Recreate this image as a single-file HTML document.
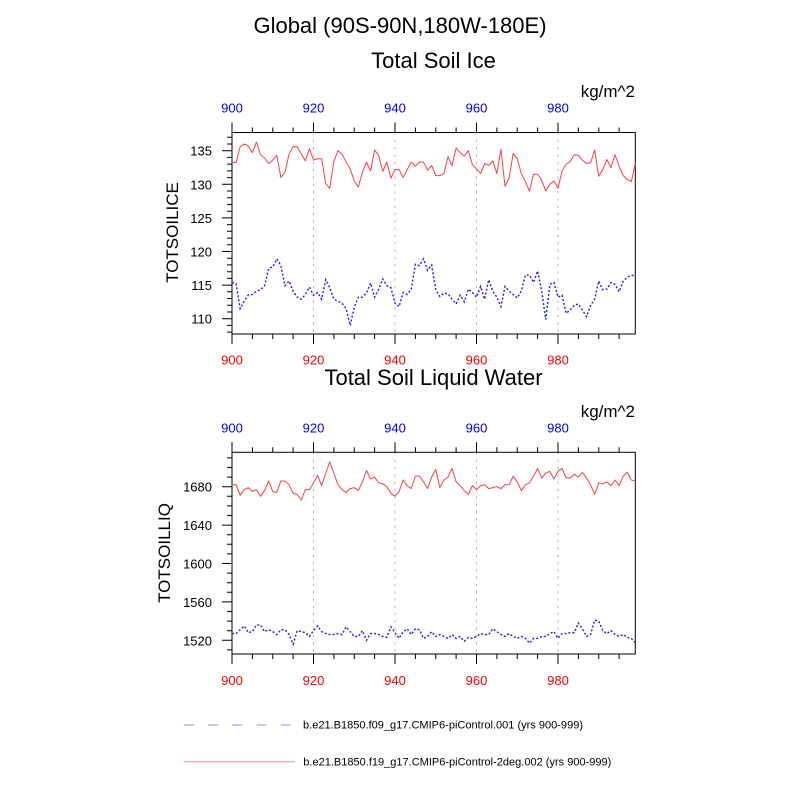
<!DOCTYPE html>
<html><head><meta charset="utf-8"><style>
html,body{margin:0;padding:0;background:#fff;}
svg{display:block;}
text{font-family:"Liberation Sans",Arial,sans-serif;}
</style></head><body>
<svg width="800" height="800" viewBox="0 0 800 800" xmlns="http://www.w3.org/2000/svg">
<rect width="800" height="800" fill="#fff"/>
<!-- Titles -->
<text x="400" y="33" font-size="22" text-anchor="middle">Global (90S-90N,180W-180E)</text>
<text x="433.5" y="68" font-size="22" text-anchor="middle">Total Soil Ice</text>
<text x="635" y="97" font-size="17" text-anchor="end">kg/m^2</text>

<!-- TOP PANEL -->
<g stroke="#b0b0b0" stroke-width="0.9" stroke-dasharray="2.5,4.8" fill="none">
<path d="M313.5 132.5V334M395 132.5V334M476.5 132.5V334M558 132.5V334"/>
</g>
<g fill="#0000ff" font-size="13" text-anchor="middle">
<text x="232" y="112.5">900</text><text x="313.5" y="112.5">920</text><text x="395" y="112.5">940</text><text x="476.5" y="112.5">960</text><text x="558" y="112.5">980</text>
</g>
<g fill="#ff0000" font-size="13" text-anchor="middle">
<text x="232" y="364.5">900</text><text x="313.5" y="364.5">920</text><text x="395" y="364.5">940</text><text x="476.5" y="364.5">960</text><text x="558" y="364.5">980</text>
</g>
<g font-size="13" text-anchor="end">
<text x="212" y="155.7">135</text><text x="212" y="189.3">130</text><text x="212" y="222.9">125</text><text x="212" y="256.5">120</text><text x="212" y="290.1">115</text><text x="212" y="323.7">110</text>
</g>
<text transform="translate(178,232.5) rotate(-90)" font-size="17" text-anchor="middle">TOTSOILICE</text>
<g stroke="#000" stroke-width="1" fill="none">
<path d="M232 122.5V132.5M313.5 122.5V132.5M395 122.5V132.5M476.5 122.5V132.5M558 122.5V132.5
M252.4 127.5V132.5M272.75 127.5V132.5M293.1 127.5V132.5M333.9 127.5V132.5M354.25 127.5V132.5M374.6 127.5V132.5M415.4 127.5V132.5M435.75 127.5V132.5M456.1 127.5V132.5M496.9 127.5V132.5M517.25 127.5V132.5M537.6 127.5V132.5M578.4 127.5V132.5M598.75 127.5V132.5M619.1 127.5V132.5"/>
<path d="M232 334V344M313.5 334V344M395 334V344M476.5 334V344M558 334V344
M252.4 334V339M272.75 334V339M293.1 334V339M333.9 334V339M354.25 334V339M374.6 334V339M415.4 334V339M435.75 334V339M456.1 334V339M496.9 334V339M517.25 334V339M537.6 334V339M578.4 334V339M598.75 334V339M619.1 334V339"/>
<path d="M222 150.7H232M222 184.3H232M222 217.9H232M222 251.5H232M222 285.1H232M222 318.7H232
M227 332.1H232M227 325.4H232M227 312H232M227 305.3H232M227 298.5H232M227 291.8H232M227 278.4H232M227 271.7H232M227 264.9H232M227 258.2H232M227 244.8H232M227 238.1H232M227 231.3H232M227 224.6H232M227 211.2H232M227 204.5H232M227 197.7H232M227 191H232M227 177.6H232M227 170.9H232M227 164.1H232M227 157.4H232M227 144H232M227 137.3H232"/>
<rect x="232" y="132.5" width="403.3" height="201.5"/>
</g>
<polyline transform="matrix(4.075 0 0 -6.72 232 1057.9)" vector-effect="non-scaling-stroke" fill="none" stroke="#ff4040" stroke-width="1" stroke-linejoin="round"
points="0,133.3 1,133.2 2,135.6 3,136.0 4,135.7 5,134.7 6,136.3 7,134.4 8,133.9 9,133.1 10,133.6 11,134.3 12,131.0 13,131.8 14,134.5 15,135.6 16,135.6 17,134.5 18,133.5 19,135.3 20,133.6 21,133.8 22,133.8 23,130.1 24,129.4 25,133.4 26,135.0 27,134.5 28,133.3 29,132.3 30,130.5 31,129.6 32,131.8 33,133.3 34,132.0 35,135.1 36,134.3 37,131.9 38,133.3 39,130.9 40,132.2 41,132.2 42,131.0 43,132.2 44,133.3 45,132.7 46,133.3 47,133.3 48,132.1 49,132.8 50,131.3 51,131.3 52,131.6 53,134.1 54,132.8 55,135.4 56,134.7 57,134.2 58,135.0 59,132.9 60,132.3 61,131.6 62,133.1 63,132.8 64,133.5 65,131.6 66,135.2 67,129.7 68,130.9 69,134.6 70,133.8 71,131.6 72,130.4 73,129.0 74,131.5 75,131.5 76,130.6 77,129.0 78,130.0 79,130.5 80,129.4 81,132.0 82,133.0 83,133.4 84,134.4 85,134.3 86,133.6 87,133.1 88,133.2 89,135.1 90,131.2 91,132.2 92,133.7 93,132.5 94,134.4 95,132.7 96,131.3 97,130.7 98,130.4 99,133.2"/>
<polyline transform="matrix(4.075 0 0 -6.72 232 1057.9)" vector-effect="non-scaling-stroke" fill="none" stroke="#1a1aff" stroke-width="1.4" stroke-dasharray="2,2"
points="0,115.4 1,115.2 2,111.5 3,112.6 4,113.5 5,113.6 6,114.1 7,114.3 8,114.9 9,117.5 10,117.7 11,118.9 12,117.9 13,114.9 14,115.6 15,114.1 16,113.2 17,112.9 18,113.6 19,114.7 20,113.5 21,113.9 22,112.9 23,115.8 24,114.6 25,112.9 26,112.6 27,112.3 28,111.5 29,109.0 30,111.7 31,113.2 32,113.2 33,113.8 34,115.3 35,113.2 36,114.4 37,115.9 38,114.9 39,114.6 40,112.3 41,111.8 42,113.9 43,113.6 44,114.4 45,118.1 46,117.9 47,118.9 48,117.2 49,118.0 50,114.3 51,113.3 52,113.8 53,113.7 54,112.9 55,112.2 56,113.5 57,112.5 58,114.4 59,113.9 60,113.2 61,114.8 62,112.9 63,115.8 64,114.1 65,113.2 66,111.8 67,114.8 68,114.1 69,113.6 70,113.1 71,114.1 72,116.5 73,116.5 74,115.4 75,117.1 76,114.1 77,109.9 78,115.1 79,115.4 80,113.2 81,113.5 82,110.8 83,111.3 84,112.0 85,112.2 86,111.3 87,110.3 88,112.0 89,112.9 90,115.6 91,114.3 92,114.4 93,115.4 94,115.1 95,114.0 96,115.6 97,116.2 98,116.4 99,116.5"/>

<!-- BOTTOM PANEL -->
<text x="433.5" y="385" font-size="22" text-anchor="middle">Total Soil Liquid Water</text>
<text x="635" y="417" font-size="17" text-anchor="end">kg/m^2</text>
<g stroke="#b0b0b0" stroke-width="0.9" stroke-dasharray="2.5,4.8" fill="none">
<path d="M313.5 452.3V654M395 452.3V654M476.5 452.3V654M558 452.3V654"/>
</g>
<g fill="#0000ff" font-size="13" text-anchor="middle">
<text x="232" y="432.3">900</text><text x="313.5" y="432.3">920</text><text x="395" y="432.3">940</text><text x="476.5" y="432.3">960</text><text x="558" y="432.3">980</text>
</g>
<g fill="#ff0000" font-size="13" text-anchor="middle">
<text x="232" y="685">900</text><text x="313.5" y="685">920</text><text x="395" y="685">940</text><text x="476.5" y="685">960</text><text x="558" y="685">980</text>
</g>
<g font-size="13" text-anchor="end">
<text x="212" y="491.7">1680</text><text x="212" y="530.1">1640</text><text x="212" y="568.5">1600</text><text x="212" y="606.9">1560</text><text x="212" y="645.3">1520</text>
</g>
<text transform="translate(170,553) rotate(-90)" font-size="17" text-anchor="middle">TOTSOILLIQ</text>
<g stroke="#000" stroke-width="1" fill="none">
<path d="M232 442.3V452.3M313.5 442.3V452.3M395 442.3V452.3M476.5 442.3V452.3M558 442.3V452.3
M252.4 447.3V452.3M272.75 447.3V452.3M293.1 447.3V452.3M333.9 447.3V452.3M354.25 447.3V452.3M374.6 447.3V452.3M415.4 447.3V452.3M435.75 447.3V452.3M456.1 447.3V452.3M496.9 447.3V452.3M517.25 447.3V452.3M537.6 447.3V452.3M578.4 447.3V452.3M598.75 447.3V452.3M619.1 447.3V452.3"/>
<path d="M232 654V664M313.5 654V664M395 654V664M476.5 654V664M558 654V664
M252.4 654V659M272.75 654V659M293.1 654V659M333.9 654V659M354.25 654V659M374.6 654V659M415.4 654V659M435.75 654V659M456.1 654V659M496.9 654V659M517.25 654V659M537.6 654V659M578.4 654V659M598.75 654V659M619.1 654V659"/>
<path d="M222 486.7H232M222 525.1H232M222 563.5H232M222 601.9H232M222 640.3H232
M227 649.9H232M227 630.7H232M227 621.1H232M227 611.5H232M227 592.3H232M227 582.7H232M227 573.1H232M227 553.9H232M227 544.3H232M227 534.7H232M227 515.5H232M227 505.9H232M227 496.3H232M227 477.1H232M227 467.5H232M227 457.9H232"/>
<rect x="232" y="452.3" width="403.3" height="201.7"/>
</g>
<polyline transform="matrix(4.075 0 0 -0.96 232 2099.5)" vector-effect="non-scaling-stroke" fill="none" stroke="#ff4040" stroke-width="1" stroke-linejoin="round"
points="0,1682 1,1682 2,1671 3,1677 4,1679 5,1675 6,1677 7,1670 8,1676 9,1686 10,1675 11,1674 12,1686 13,1686 14,1682 15,1673 16,1672 17,1666 18,1677 19,1677 20,1684 21,1692 22,1681 23,1694 24,1706 25,1694 26,1682 27,1677 28,1674 29,1678 30,1679 31,1676 32,1685 33,1697 34,1688 35,1690 36,1684 37,1683 38,1680 39,1673 40,1670 41,1675 42,1687 43,1681 44,1678 45,1691 46,1691 47,1685 48,1678 49,1690 50,1698 51,1679 52,1687 53,1690 54,1699 55,1685 56,1681 57,1676 58,1672 59,1681 60,1677 61,1681 62,1682 63,1678 64,1679 65,1680 66,1678 67,1682 68,1682 69,1691 70,1685 71,1676 72,1682 73,1684 74,1691 75,1699 76,1689 77,1694 78,1696 79,1688 80,1696 81,1699 82,1689 83,1689 84,1693 85,1690 86,1695 87,1689 88,1682 89,1672 90,1684 91,1683 92,1685 93,1681 94,1687 95,1681 96,1691 97,1695 98,1687 99,1686"/>
<polyline transform="matrix(4.075 0 0 -0.96 232 2099.5)" vector-effect="non-scaling-stroke" fill="none" stroke="#1a1aff" stroke-width="1.4" stroke-dasharray="2,2"
points="0,1527 1,1527 2,1531 3,1535 4,1528 5,1529 6,1536 7,1536 8,1529 9,1531 10,1529 11,1526 12,1531 13,1531 14,1526 15,1516 16,1530 17,1529 18,1528 19,1524 20,1530 21,1535 22,1529 23,1527 24,1526 25,1526 26,1527 27,1526 28,1534 29,1529 30,1524 31,1524 32,1530 33,1520 34,1527 35,1527 36,1526 37,1524 38,1523 39,1534 40,1528 41,1522 42,1529 43,1532 44,1526 45,1532 46,1531 47,1522 48,1524 49,1529 50,1524 51,1526 52,1524 53,1522 54,1526 55,1522 56,1524 57,1519 58,1523 59,1522 60,1524 61,1527 62,1526 63,1526 64,1532 65,1529 66,1526 67,1524 68,1527 69,1524 70,1522 71,1524 72,1522 73,1517 74,1522 75,1522 76,1524 77,1524 78,1527 79,1529 80,1522 81,1527 82,1527 83,1528 84,1528 85,1538 86,1532 87,1524 88,1526 89,1541 90,1540 91,1530 92,1527 93,1530 94,1526 95,1524 96,1526 97,1523 98,1522 99,1517"/>

<!-- LEGEND -->
<line x1="184" y1="725" x2="291" y2="725" stroke="#b4b4ff" stroke-width="1.5" stroke-dasharray="10,14.2"/>
<text x="303" y="728.5" font-size="11" textLength="280" lengthAdjust="spacingAndGlyphs">b.e21.B1850.f09_g17.CMIP6-piControl.001 (yrs 900-999)</text>
<line x1="184" y1="761.7" x2="295" y2="761.7" stroke="#ffb0b0" stroke-width="1.5"/>
<text x="303.3" y="765.5" font-size="11" textLength="308" lengthAdjust="spacingAndGlyphs">b.e21.B1850.f19_g17.CMIP6-piControl-2deg.002 (yrs 900-999)</text>
</svg>
</body></html>
